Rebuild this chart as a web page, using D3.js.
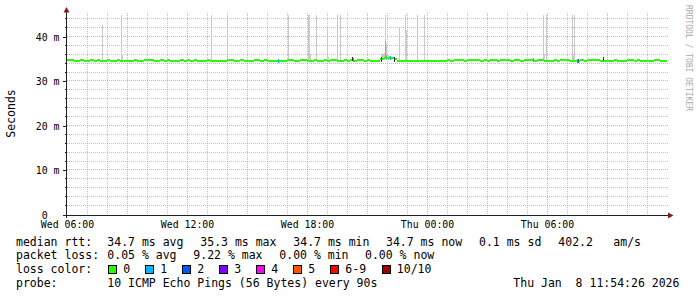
<!DOCTYPE html>
<html><head><meta charset="utf-8">
<script src="https://cdn.jsdelivr.net/npm/d3@7/dist/d3.min.js"></script>
<style>
html,body{margin:0;padding:0;background:#fff;}
svg{display:block;}
text{font-family:"DejaVu Sans Mono",monospace;white-space:pre;}
</style></head><body>
<svg id="c" width="697" height="297"></svg>
<script>
// ---------------- data ----------------
const startTime = "2026-01-07T06:00";
const endTime   = "2026-01-08T12:00";
const medianStepMinutes = 10;
// median rtt (ms), one value per 10 minutes, one row per hour
const medianMs = [
 34.9,34.9,34.7,34.7,34.9,34.7,
 34.7,34.9,34.7,34.9,34.7,34.7,
 34.9,34.7,34.7,34.9,34.7,34.7,
 34.7,34.7,34.9,34.7,34.7,34.9,
 34.9,34.9,34.7,34.7,34.9,34.7,
 34.9,34.7,34.7,34.7,34.9,34.7,
 34.9,34.7,34.9,34.7,34.7,34.7,
 34.9,34.7,34.7,34.7,34.7,34.7,
 34.9,34.9,34.7,34.7,34.9,34.7,
 34.7,34.7,34.9,34.9,34.7,34.9,
 34.7,34.7,34.7,34.7,34.7,34.7,
 34.9,34.9,34.7,34.7,34.9,34.9,
 34.7,34.7,34.9,34.7,34.7,34.9,
 34.7,34.9,34.9,34.7,34.7,34.9,
 34.7,34.9,34.7,34.9,34.9,34.7,
 34.9,34.7,34.7,34.7,35.2,35.4,
 35.3,35.3,35.2,34.7,34.7,34.7,
 34.7,34.7,34.7,34.7,34.7,34.7,
 34.7,34.7,34.7,34.7,34.7,34.7,
 34.9,34.7,34.9,34.9,34.9,34.7,
 34.9,34.9,34.9,34.9,34.7,34.9,
 34.7,34.9,34.9,34.7,34.9,34.9,
 34.9,34.7,34.9,34.9,34.7,34.9,
 34.9,34.9,34.7,34.9,34.9,34.7,
 34.7,34.7,34.9,34.7,34.9,34.9,
 34.9,34.7,34.7,34.7,34.9,34.7,
 34.9,34.9,34.9,34.9,34.7,34.7,
 34.7,34.7,34.9,34.7,34.7,34.7,
 34.9,34.9,34.7,34.9,34.7,34.7,
 34.7,34.7,34.9,34.9,34.7,34.7
];
// packet loss events (number of lost pings out of 10)
const lossTimes  = ["2026-01-07T16:33","2026-01-07T20:17","2026-01-07T22:09","2026-01-08T05:18","2026-01-08T07:31","2026-01-08T07:34"];
const lossCounts = [1,1,1,1,1,2];
// smoke: individual ping spread (low/high ms) and ring (1 = outermost ping pair)
const smokeTimes = [
 "2026-01-07T07:46","2026-01-07T08:43","2026-01-07T08:46","2026-01-07T13:13","2026-01-07T14:01",
 "2026-01-07T17:04","2026-01-07T18:04","2026-01-07T18:07","2026-01-07T18:10","2026-01-07T18:28",
 "2026-01-07T19:01","2026-01-07T19:04","2026-01-07T19:31","2026-01-07T19:40",
 "2026-01-07T21:43","2026-01-07T21:46","2026-01-07T21:49","2026-01-07T21:52","2026-01-07T21:55",
 "2026-01-07T21:58","2026-01-07T22:01","2026-01-07T22:04","2026-01-07T22:07","2026-01-07T22:10",
 "2026-01-07T22:37","2026-01-07T22:53","2026-01-07T22:56","2026-01-07T23:31","2026-01-07T23:52",
 "2026-01-08T05:49","2026-01-08T05:52","2026-01-08T05:57","2026-01-08T07:16","2026-01-08T07:19","2026-01-08T07:22",
 "2026-01-07T21:55","2026-01-07T21:58",
 "2026-01-07T20:15","2026-01-07T21:42","2026-01-07T22:21","2026-01-08T08:48"
];
const smokeLows = [
 34.6,34.6,34.6,34.6,34.6,
 34.6,34.6,34.6,34.6,34.6,
 34.6,34.6,34.6,34.6,
 34.8,34.8,34.8,34.8,34.8,
 34.8,34.8,34.8,34.8,34.8,
 34.6,34.6,34.6,34.6,34.6,
 34.6,34.6,34.6,34.6,34.6,34.6,
 35.0,35.0,
 34.5,34.4,34.4,34.5
];
const smokeHighs = [
 42.7,45.0,36.0,45.0,45.0,
 45.0,45.0,45.0,36.2,45.0,
 42.1,35.6,45.0,45.0,
 36.2,36.4,36.2,36.4,45.0,
 38.5,36.2,36.0,35.8,35.6,
 42.0,45.0,41.6,45.0,45.0,
 45.0,36.2,45.0,45.0,36.0,45.0,
 39.0,36.0,
 35.5,35.4,35.4,35.6
];
const smokeRings = [
 1,1,1,1,1, 1,1,1,1,1, 1,1,1,1,
 1,1,1,1,1, 1,1,1,1,1,
 1,1,1,1,1, 1,1,1,1,1,1,
 2,2,
 5,5,5,5
];
const yTicks = [0,10,20,30,40];
const xTickTimes = ["2026-01-07T06:00","2026-01-07T12:00","2026-01-07T18:00","2026-01-08T00:00","2026-01-08T06:00"];
const lossLegendLabels = ["0","1","2","3","4","5","6-9","10/10"];
const lossLegendColors = ["#26ff00","#00b8ff","#0059ff","#7e00ff","#ff00ff","#ff5500","#ff0000","#a00000"];
const medianStats = ["34.7 ms avg","35.3 ms max","34.7 ms min","34.7 ms now","0.1 ms sd","402.2","am/s"];
const lossStats = ["0.05 % avg","9.22 % max","0.00 % min","0.00 % now"];
const probeText = "10 ICMP Echo Pings (56 Bytes) every 90s";
const stampText = "Thu Jan  8 11:54:26 2026";
const yLabel = "Seconds";
const watermark = "RRDTOOL / TOBI OETIKER";

// ---------------- chart ----------------
const svg = d3.select("#c");
svg.append("rect").attr("width",697).attr("height",297).attr("fill","#fff");
const parse = d3.utcParse("%Y-%m-%dT%H:%M");
const t0 = parse(startTime), t1 = parse(endTime);
const X0 = 67, X1 = 667, YB = 215, YT = 12.5;
const x = d3.scaleUtc().domain([t0,t1]).range([X0,X1]);
const y = d3.scaleLinear().domain([0,45.5]).range([YB,YT]);
const snap = v => Math.round(v) + 0.5;

const minorCol = "rgba(143,143,143,0.55)";
const majorCol = "rgba(222,79,79,0.5)";
const grid = svg.append("g").attr("shape-rendering","crispEdges").attr("stroke-dasharray","1,1").attr("stroke-width",1);
// vertical grid
d3.utcHour.range(d3.utcHour.offset(t0,1), t1).forEach(d => {
  const major = d.getUTCHours() % 3 === 0;
  grid.append("line").attr("x1",snap(x(d))).attr("x2",snap(x(d))).attr("y1",YT).attr("y2",YB)
    .attr("stroke", major ? majorCol : minorCol);
});
// horizontal grid
d3.range(2,46,2).forEach(v => {
  const major = v % 10 === 0;
  grid.append("line").attr("x1",X0).attr("x2",X1+1).attr("y1",snap(y(v))-1).attr("y2",snap(y(v))-1)
    .attr("stroke", major ? majorCol : minorCol);
});

// smoke
const ringColor = r => { const c = Math.round(190/5*(5-r))+50; return d3.rgb(c,c,c).toString(); };
const smoke = smokeTimes.map((s,i)=>({t:parse(s), lo:smokeLows[i], hi:smokeHighs[i], r:smokeRings[i]}));
const drawSmoke = (g, list) => g.selectAll("rect").data(list).join("rect")
  .attr("x", d => Math.round(x(d.t)))
  .attr("width", d => Math.max(1, Math.round(x(d3.utcMinute.offset(d.t,3)) - x(d.t))))
  .attr("y", d => y(d.hi)).attr("height", d => y(d.lo) - y(d.hi))
  .attr("fill", d => ringColor(d.r));
drawSmoke(svg.append("g").attr("shape-rendering","crispEdges"), smoke.filter(d=>d.r<=2));

// median
const med = medianMs.map((v,i)=>({t:d3.utcMinute.offset(t0,i*medianStepMinutes), v}));
med.push({t:t1, v:medianMs[medianMs.length-1]});
const area = d3.area().curve(d3.curveStepAfter).x(d=>x(d.t)).y0(d=>y(d.v)+1.5).y1(d=>y(d.v)-0.6);
svg.append("path").datum(med).attr("d",area).attr("fill","#26ff00").attr("shape-rendering","crispEdges");

// dark inner smoke
drawSmoke(svg.append("g").attr("shape-rendering","crispEdges"), smoke.filter(d=>d.r>2));

// loss-coloured median
const medAt = t => medianMs[Math.min(medianMs.length-1, Math.floor((t - t0)/60000/medianStepMinutes))];
svg.append("g").attr("shape-rendering","crispEdges").selectAll("rect")
  .data(lossTimes.map((s,i)=>({t:parse(s), c:lossCounts[i]}))).join("rect")
  .attr("x", d=>Math.round(x(d.t))).attr("width", d=>Math.max(1,Math.round(x(d3.utcMinute.offset(d.t,3))-x(d.t))))
  .attr("y", d=>y(medAt(d.t))-1.5).attr("height", 4)
  .attr("fill", d=>lossLegendColors[Math.min(d.c,6)]);

// axes
const axisCol = "#1f1f1f";
const arrowCol = "#801f1f";
const yAxis = d3.axisLeft(y).tickValues(yTicks)
  .tickFormat(d => d === 0 ? "0\u00a0\u00a0" : d + " m").tickSize(4).tickPadding(3);
const gy = svg.append("g").attr("transform",`translate(${X0-0.5},0)`).call(yAxis);
gy.select(".domain").remove();
gy.attr("font-family",'"DejaVu Sans Mono",monospace').attr("font-size",9.9);
gy.selectAll(".tick line").attr("stroke",axisCol).attr("shape-rendering","crispEdges");
gy.selectAll(".tick").attr("transform", d => `translate(0,${Math.round(y(d))+0.5})`);
gy.selectAll("text").attr("fill","#000").attr("dy","0.33em");
const gym = svg.append("g").attr("transform",`translate(${X0-0.5},0)`)
  .call(d3.axisLeft(y).tickValues(d3.range(2,46,2).filter(v=>v%10)).tickSize(2).tickFormat(""));
gym.select(".domain").remove();
gym.selectAll(".tick line").attr("stroke",axisCol).attr("shape-rendering","crispEdges");
gym.selectAll(".tick").attr("transform", d => `translate(0,${Math.round(y(d))-0.5})`);

const xAxis = d3.axisBottom(x).tickValues(xTickTimes.map(parse))
  .tickFormat(d3.utcFormat("%a %H:%M")).tickSize(0).tickPadding(5.5);
const gx = svg.append("g").attr("transform",`translate(0,${YB})`).call(xAxis);
gx.select(".domain").remove();
gx.attr("font-family",'"DejaVu Sans Mono",monospace').attr("font-size",9.9);
gx.selectAll("text").attr("fill","#000");

// axis lines + arrows
svg.append("line").attr("x1",63).attr("x2",669).attr("y1",YB+0.5).attr("y2",YB+0.5)
  .attr("stroke",axisCol).attr("shape-rendering","crispEdges");
svg.append("line").attr("x1",X0-0.5).attr("x2",X0-0.5).attr("y1",218).attr("y2",11)
  .attr("stroke",axisCol).attr("shape-rendering","crispEdges");
svg.append("path").attr("d",`M${X0-3.5},12.5 L${X0+2.5},12.5 L${X0-0.5},7 Z`).attr("fill",arrowCol);
svg.append("path").attr("d",`M668,212.5 L668,218.5 L673.5,215.5 Z`).attr("fill",arrowCol);

// y label
svg.append("text").attr("transform","translate(15,113.5) rotate(-90)").attr("text-anchor","middle")
  .attr("font-size",11.5).text(yLabel);
// watermark
svg.append("text").attr("transform","translate(685.5,5) rotate(90)").attr("font-size",8)
  .attr("fill","#aaaaaa").text(watermark);

// legend
const lg = svg.append("g").attr("font-size",11.5).attr("fill","#000");
const put = (s,xp,yp) => lg.append("text").attr("x",xp).attr("y",yp).text(s);
const r1 = 245.5, r2 = 259, r3 = 272.7, r4 = 286.5;
put("median rtt:",16,r1);
[107.3,200.3,293.3,386,479,558.3,613.3].forEach((xp,i)=>put(medianStats[i],xp,r1));
put("packet loss:",16,r2);
[107.3,193.3,279.3,365].forEach((xp,i)=>put(lossStats[i],xp,r2));
put("loss color:",16,r3);
[108.5,145.5,182.5,219.5,256.5,293.5,330.5,382].forEach((xp,i)=>{
  lg.append("rect").attr("x",xp).attr("y",265.5).attr("width",8).attr("height",7.5)
    .attr("fill",lossLegendColors[i]).attr("stroke","#000").attr("shape-rendering","crispEdges");
  put(lossLegendLabels[i], xp+14.8, r3);
});
put("probe:",16,r4);
put(probeText,107.3,r4);
put(stampText,513.3,r4);
</script>
</body></html>
